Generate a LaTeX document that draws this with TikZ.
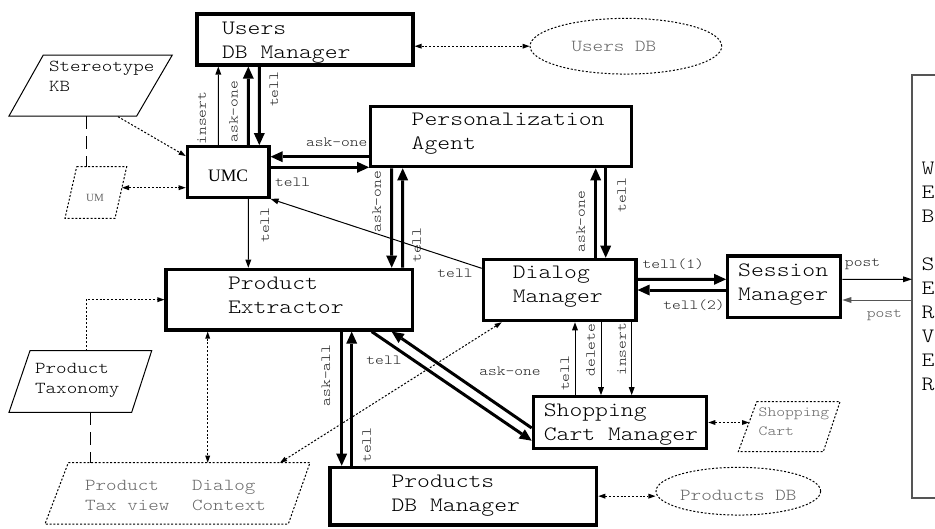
\documentclass[tikz,border=0pt]{standalone}
\usepackage{fontspec}
\newfontfamily\cmono{lmmonolt10-regular.otf}[FakeStretch=1.2]
\newfontfamily\cserif{Liberation Serif}
\usetikzlibrary{arrows.meta,shapes.geometric}
\definecolor{textgrey}{HTML}{666666}
\definecolor{labelink}{HTML}{222222}
\definecolor{servergrey}{HTML}{555555}
\newcommand\bx[1]{\hspace*{#1pt}}
% one full character cell between words
\newcommand\mgap{\hphantom{x}}

\begin{document}
\begin{tikzpicture}[x=1pt,y=-1pt,
  agentbox/.style 2 args={draw, line width=3.2pt, rectangle, inner sep=0pt,
    minimum width=#1, text width=#1, minimum height=#2, align=left,
    text height=0pt, font=\cmono\fontsize{20.4}{24}\selectfont},
  storetext/.style={inner sep=0pt, align=left, anchor=base west,
    font=\cmono\fontsize{16.7}{20}\selectfont},
  dbstore/.style={draw, ellipse, line width=1pt, dash pattern=on 2pt off 1.8pt,
    inner sep=0pt, text=textgrey, font=\cmono\fontsize{16.8}{20}\selectfont},
  lab/.style={inner sep=0pt, text=labelink, font=\cmono\fontsize{13.9}{17}\selectfont},
  bigarrow/.style={line width=3pt, >={Triangle[length=12pt,width=11pt,line width=0pt]}, ->},
  smallarrow/.style={line width=1pt, >={Triangle[length=8pt,width=6pt,line width=0pt]}, ->},
  dotlink/.style={line width=1pt, dash pattern=on 2pt off 1.8pt,
    >={Triangle[length=7pt,width=5pt,line width=0pt]}},
  dashlink/.style={line width=1pt, dash pattern=on 13pt off 7pt},
  kbline/.style={line width=1pt, line join=miter},
  storeline/.style={line width=1pt, dash pattern=on 2pt off 1.8pt},
]
\useasboundingbox (0,0) rectangle (935,528);

% ---------- agents ----------
\node[agentbox={216pt}{51pt}, text depth=11pt] (udb) at (305,39.5) {\bx{25}Users\\\bx{25}DB\mgap Manager};
\node[agentbox={261pt}{60pt}, text depth=22.4pt] (pa) at (501.2,136.7) {\bx{41}Personalization\\\bx{41}Agent};
\node[agentbox={246.7pt}{60.7pt}, text depth=21.3pt] (pe) at (289.35,299.65) {\bx{62}Product\\\bx{62}Extractor};
\node[agentbox={152.7pt}{61.4pt}, text depth=23pt] (dm) at (559.65,290) {\bx{29.5}Dialog\\\bx{29.5}Manager};
\node[agentbox={113pt}{61.3pt}, text depth=21.3pt] (sm) at (784.2,286.65) {\bx{10.5}Session\\\bx{10.5}Manager};
\node[agentbox={173.4pt}{51.6pt}, text depth=11.6pt] (scm) at (620,422.5) {\bx{10.5}Shopping\\\bx{10.5}Cart\mgap Manager};
\node[agentbox={266.7pt}{57.7pt}, text depth=17.9pt] (pdbm) at (463.35,496.15) {\bx{61.5}Products\\\bx{61.5}DB\mgap Manager};
\node[draw, line width=3.2pt, minimum width=81.7pt, minimum height=50.6pt, inner sep=0pt,
  font=\cserif\fontsize{17.5}{20}\selectfont, text height=18.5pt, text depth=0pt] (umc) at (228.15,172) {UMC};

% ---------- databases ----------
\node[dbstore, minimum width=191.7pt, minimum height=55.7pt] (udbE) at (625.9,46.2) {Users\mgap DB\hspace*{24pt}};
\node[dbstore, minimum width=163.3pt, minimum height=47.7pt, text height=18pt, text depth=0pt] (pdbE) at (738.3,491.2) {Products\mgap DB};

% ---------- knowledge bases and views ----------
\draw[kbline] (43.3,55) -- (172.3,55) -- (136.7,116) -- (9,116) -- cycle;
\node[storetext] (skb) at (49,91.7) {Stereotype\\KB};
\draw[storeline] (76.7,166.7) -- (126.7,166.7) -- (115,218.3) -- (65,218.3) -- cycle;
\node[inner sep=0pt, text=textgrey, font=\cserif\fontsize{11}{13}\selectfont] (um) at (95,198) {UM};
\draw[kbline] (30,350.7) -- (151.7,350.7) -- (131.7,412.3) -- (9,412.3) -- cycle;
\node[storetext] (ptax) at (35,393.3) {Product\\Taxonomy};
\draw[storeline] (68.3,462.7) -- (310,462.7) -- (288.3,524) -- (45,524) -- cycle;
\node[storetext, text=textgrey] (ptview) at (85,510) {Product\\Tax\mgap view};
\node[storetext, text=textgrey] (dctx) at (192,510) {Dialog\\Context};
\draw[storeline] (756.7,401.7) -- (840,401.7) -- (823.3,451.7) -- (738.3,451.7) -- cycle;
\node[storetext, text=textgrey, font=\cmono\fontsize{14}{19}\selectfont] (cart) at (758.5,435.7) {Shopping\\Cart};

% ---------- web server ----------
\draw[servergrey, line width=1.3pt] (935,75) -- (912,75) -- (912,498) -- (935,498);
\node[inner sep=0pt, align=left, anchor=base west, font=\cmono\fontsize{20.4}{24.1}\selectfont] (ws)
  at (921.5,390.9) {W\\E\\B\\[24.1pt]S\\E\\R\\V\\E\\R};

% ---------- free ends ----------
\coordinate (skbOut) at (118,116.7);
\coordinate (skbFoot) at (86,116);
\coordinate (umTop) at (86,166.7);
\coordinate (umR) at (122,187.7);
\coordinate (ptTop) at (86,350.7);
\coordinate (ptFoot) at (90.7,412.3);
\coordinate (ctxFoot) at (90.7,462.7);
\coordinate (ctxMid) at (207.7,462.7);
\coordinate (ctxTR) at (280,462.7);
\coordinate (cartL) at (749,422.7);
\coordinate (wsIn) at (912,279.3);
\coordinate (wsOut) at (912,300);

% ---------- dotted and dashed links ----------
\draw[dotlink, <->] (udb.east |- udbE.west) -- (udbE.west);
\draw[dotlink, <->] (pdbm.east) -- (pdbm.east -| pdbE.west);
\draw[dotlink, <->] (scm.east) -- (scm.east -| cartL);
\draw[dotlink, <->] (umR) -- (umR -| umc.west);
\draw[dotlink, ->] (skbOut) -- ([yshift=16pt]umc.west);
\draw[dotlink, ->] (ptTop) |- (pe.west);
\draw[dotlink, <->] (ctxMid |- pe.south) -- (ctxMid);
\draw[dotlink, <->] ([xshift=-57.95pt]dm.south) -- (ctxTR);
\draw[dashlink] (skbFoot) -- (umTop);
\draw[dashlink] (ptFoot) -- (ctxFoot);

% ---------- messages ----------
% UMC and Users DB Manager
\draw[smallarrow] ([xshift=-9.85pt]umc.north) -- ([xshift=-86.7pt]udb.south);
\draw[bigarrow] ([xshift=20.15pt]umc.north) -- ([xshift=-56.7pt]udb.south);
\draw[bigarrow] ([xshift=-45.7pt]udb.south) -- ([xshift=31.15pt]umc.north);
\node[lab, rotate=90] (l1) at (201.7,118) {insert};
\node[lab, rotate=90] (l2) at (233.3,111.7) {ask-one};
\node[lab, rotate=90] (l3) at (274,89.3) {tell};
% UMC and Personalization Agent
\draw[bigarrow] ([yshift=-20pt]pa.west) -- ([yshift=15.3pt]umc.east);
\draw[bigarrow] ([yshift=4.7pt]umc.east) -- ([yshift=-30.6pt]pa.west);
\node[lab] (l4) at (336.7,142.7) {ask-one};
\node[lab] (l5) at (292.7,182.3) {tell};
% UMC to Product Extractor
\draw[smallarrow] ([xshift=20.15pt]umc.south) -- ([xshift=-41.05pt]pe.north);
\node[lab, rotate=90] (l6) at (265,225) {tell};
% Personalization Agent and Product Extractor
\draw[bigarrow] ([xshift=-109.5pt]pa.south) -- ([xshift=102.35pt]pe.north);
\draw[bigarrow] ([xshift=113.35pt]pe.north) -- ([xshift=-98.5pt]pa.south);
\node[lab, rotate=90] (l7) at (376.7,201.7) {ask-one};
\node[lab, rotate=90] (l8) at (416.7,245) {tell};
% Dialog Manager to UMC
\draw[smallarrow] ([yshift=21.7pt]dm.west) -- (umc.south east);
\node[lab] (l9) at (455,273.3) {tell};
% Personalization Agent and Dialog Manager
\draw[bigarrow] ([xshift=36.05pt]dm.north) -- ([xshift=94.5pt]pa.south);
\draw[bigarrow] ([xshift=104.5pt]pa.south) -- ([xshift=46.05pt]dm.north);
\node[lab, rotate=90] (l10) at (580.7,221.7) {ask-one};
\node[lab, rotate=90] (l11) at (621.7,195) {tell};
% Dialog Manager and Session Manager
\draw[bigarrow] ([yshift=10.7pt]dm.east) -- ([yshift=7.35pt]sm.west);
\draw[bigarrow] ([yshift=-3.35pt]sm.west) -- (dm.east);
\node[lab] (l12) at (673.3,264) {tell(1)};
\node[lab] (l13) at (694,305.7) {tell(2)};
% Session Manager and web server
\draw[smallarrow, >={Triangle[length=9pt,width=6pt,line width=0pt]}] ([yshift=7.35pt]sm.east) -- (wsIn);
\draw[smallarrow, servergrey, >={Triangle[length=9pt,width=6pt,line width=0pt]}] (wsOut) -- (wsOut -| sm.east);
\node[lab] (l14) at (862.5,264) {post};
\node[lab, text=servergrey] (l15) at (884.3,315) {post};
% Dialog Manager and Shopping Cart Manager
\draw[smallarrow] ([xshift=-45pt]scm.north) -- ([xshift=15.35pt]dm.south);
\draw[smallarrow] ([xshift=41.35pt]dm.south) -- ([xshift=-19pt]scm.north);
\draw[smallarrow] ([xshift=72.05pt]dm.south) -- ([xshift=11.7pt]scm.north);
\node[lab, rotate=90] (l16) at (565,373.3) {tell};
\node[lab, rotate=90] (l17) at (590.7,350) {delete};
\node[lab, rotate=90] (l18) at (621.7,349.3) {insert};
% Product Extractor and Shopping Cart Manager
\draw[bigarrow] ([xshift=82.35pt]pe.south) -- ([yshift=-18.2pt]scm.west);
\draw[bigarrow] ([yshift=-5.5pt]scm.west) -- ([xshift=102.35pt]pe.south);
\node[lab] (l19) at (384,360.7) {tell};
\node[lab] (l20) at (510,371) {ask-one};
% Product Extractor and Products DB Manager
\draw[bigarrow] ([xshift=52.35pt]pe.south) -- ([xshift=-121.65pt]pdbm.north);
\draw[bigarrow] ([xshift=-111.65pt]pdbm.north) -- ([xshift=62.35pt]pe.south);
\node[lab, rotate=90] (l21) at (326,375.5) {ask-all};
\node[lab, rotate=90] (l22) at (366.7,445) {tell};
\end{tikzpicture}
\end{document}
